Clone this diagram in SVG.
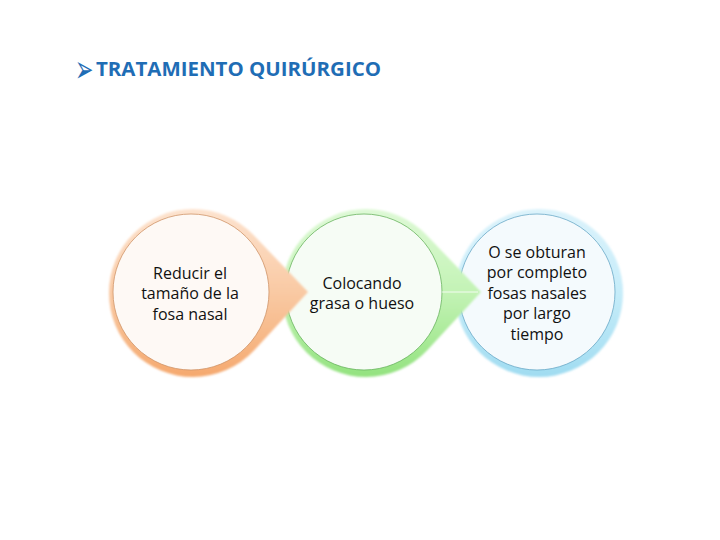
<svg xmlns="http://www.w3.org/2000/svg" width="720" height="540" viewBox="0 0 720 540">
<defs>
<linearGradient id="gO" x1="0" y1="0" x2="0" y2="1">
<stop offset="0" stop-color="#fde3cf"/><stop offset="0.5" stop-color="#f9c9a3"/><stop offset="1" stop-color="#f5a96f"/>
</linearGradient>
<linearGradient id="gG" x1="0" y1="0" x2="0" y2="1">
<stop offset="0" stop-color="#def9d6"/><stop offset="0.5" stop-color="#c3f3b5"/><stop offset="1" stop-color="#93e27f"/>
</linearGradient>
<linearGradient id="gB" x1="0" y1="0" x2="0" y2="1">
<stop offset="0" stop-color="#dcf3fb"/><stop offset="0.5" stop-color="#c6ecf9"/><stop offset="1" stop-color="#a0dcf1"/>
</linearGradient>
<filter id="soft" x="-10%" y="-10%" width="120%" height="120%"><feGaussianBlur stdDeviation="0.8"/></filter>
</defs>
<style>
.t{font-family:"Open Sans","Liberation Sans",sans-serif;font-size:16px;fill:#111;text-anchor:middle}
.title{font-family:"Open Sans","Liberation Sans",sans-serif;font-size:19px;font-weight:bold;fill:#1f6db5}
.in{stroke-width:0.8}
</style>
<rect width="720" height="540" fill="#fff"/>
<g id="title">
<text transform="translate(75,82) scale(1,1.7)" y="0" style="font-family:'DejaVu Sans',sans-serif;font-size:22px;fill:#1f6db5">➢</text>
<text class="title" x="96" y="76" textLength="285" lengthAdjust="spacingAndGlyphs">TRATAMIENTO QUIRÚRGICO</text>
</g>
<g id="connectors"></g>
<g id="node3">
<path d="M539,209 A84,84 0 1 1 539,377 A84,84 0 1 1 539,209 Z" fill="url(#gB)" filter="url(#soft)"/>
<circle cx="537" cy="292" r="78" fill="#f4fafd" stroke="#6aa8c6" class="in"/>
<text class="t" x="537" y="258">O se obturan</text>
<text class="t" x="537" y="278">por completo</text>
<text class="t" x="537" y="299">fosas nasales</text>
<text class="t" x="537" y="319">por largo</text>
<text class="t" x="537" y="340">tiempo</text>
</g>
<g id="node2">
<path d="M366,209 A84,84 0 0 0 366,377 A84,84 0 0 0 427,350.5 L481,292 L427,235.5 A84,84 0 0 0 366,209 Z" fill="url(#gG)" filter="url(#soft)"/>
<circle cx="364" cy="292" r="78" fill="#f6fcf5" stroke="#6ab45f" class="in"/>
<line x1="442" y1="292" x2="478" y2="292" stroke="#ffffff" stroke-width="1" opacity="0.8"/>
<text class="t" x="362" y="289">Colocando</text>
<text class="t" x="362" y="309">grasa o hueso</text>
</g>
<g id="node1">
<path d="M193,209 A84,84 0 0 0 193,377 A84,84 0 0 0 254,350.5 L308,292 L254,235.5 A84,84 0 0 0 193,209 Z" fill="url(#gO)" filter="url(#soft)"/>
<circle cx="191" cy="292" r="78" fill="#fef9f5" stroke="#cf9468" class="in"/>
<text class="t" x="190" y="279">Reducir el</text>
<text class="t" x="190" y="299">tamaño de la</text>
<text class="t" x="190" y="320">fosa nasal</text>
</g>
</svg>
